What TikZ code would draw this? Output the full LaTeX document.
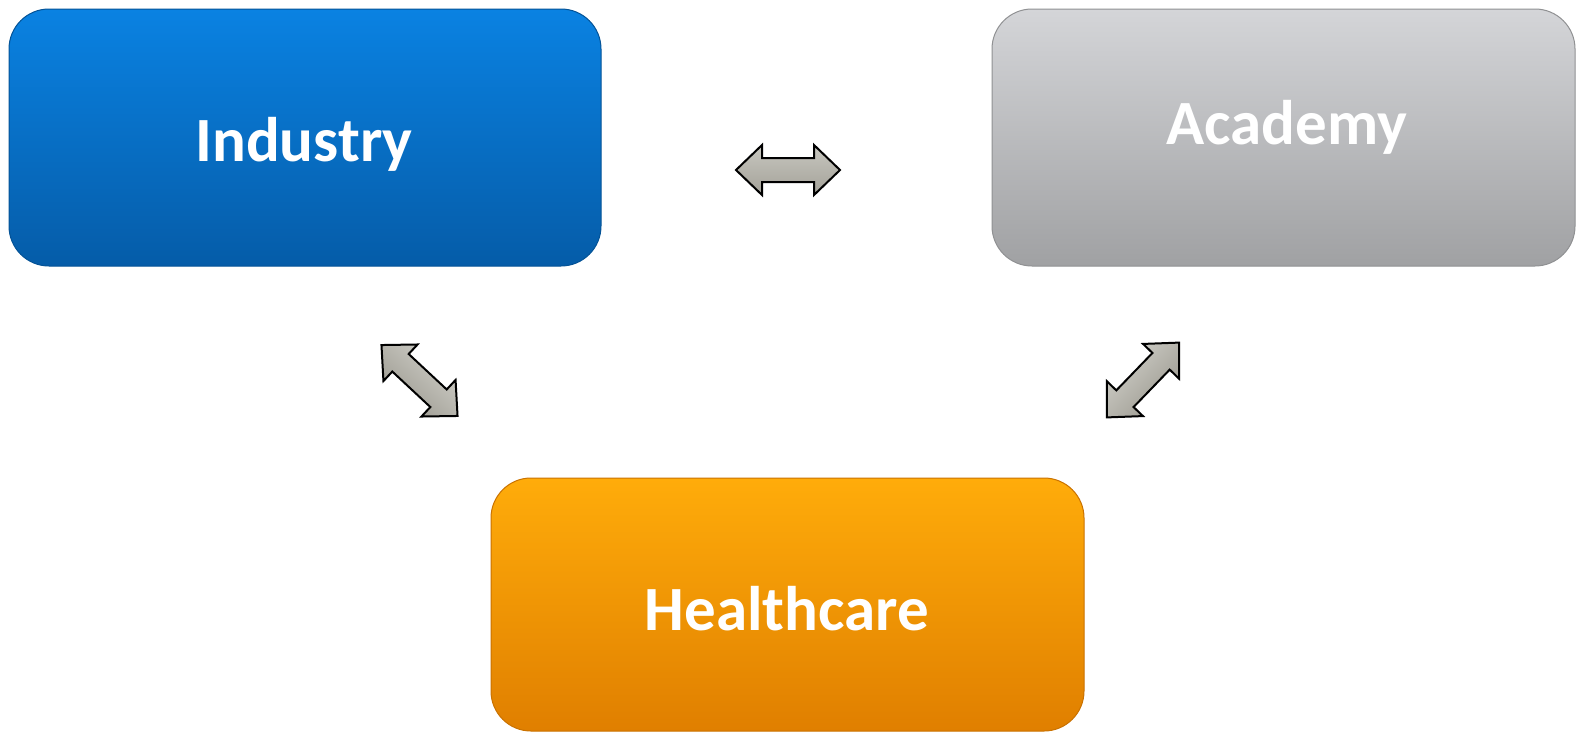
\documentclass[tikz,border=0pt]{standalone}
\usepackage{fontspec}
\setmainfont{Carlito}
\begin{document}
\begin{tikzpicture}[x=1pt,y=-1pt,
  box/.style={rectangle, rounded corners=40pt, inner sep=0pt, line width=1pt},
  boxtext/.style={anchor=base, text=white, inner sep=0pt, font=\fontsize{63}{68}\selectfont\bfseries},
  dblarrow/.style={draw=black, line width=2pt, line join=miter,
    top color=arrowtop, middle color=arrowmid, bottom color=arrowbot}
]
\definecolor{indtop}{HTML}{0A82E2}
\definecolor{indbot}{HTML}{055CA8}
\definecolor{acatop}{HTML}{D4D5D8}
\definecolor{acabot}{HTML}{A0A1A3}
\definecolor{heatop}{HTML}{FFAC0A}
\definecolor{heabot}{HTML}{E07F00}
\definecolor{arrowtop}{HTML}{C8C7C0}
\definecolor{arrowmid}{HTML}{EEEEEA}
\definecolor{arrowbot}{HTML}{A3A198}
\useasboundingbox (0,0) rectangle (1578,734);
\path[fill=white] (0,0) rectangle (1578,734);

\node (ind) [box, minimum width=592pt, minimum height=257pt,
  top color=indtop, bottom color=indbot, draw=indbot!90!black] at (305,137.5) {};
\node (aca) [box, minimum width=583pt, minimum height=257pt,
  top color=acatop, bottom color=acabot, draw=acabot!90!black] at (1283.5,137.5) {};
\node (hea) [box, minimum width=593pt, minimum height=253pt,
  top color=heatop, bottom color=heabot, draw=heabot!90!black] at (787.5,604.5) {};

\node (indt) [boxtext] at (304,161) {Industry};
\node (acat) [boxtext] at (1287,144) {Academy};
\node (heat) [boxtext] at (787,630) {Healthcare};

\begin{scope}[transform canvas={shift={(788,170)}}]
\path[dblarrow] (-52,0) -- (-26,-25) -- (-26,-12) -- (26,-12) -- (26,-25) -- (52,0)
  -- (26,25) -- (26,12) -- (-26,12) -- (-26,25) -- cycle;
\end{scope}
\begin{scope}[transform canvas={shift={(419.5,380.5)}, rotate=-43}]
\path[dblarrow] (-52,0) -- (-26,-25) -- (-26,-12) -- (26,-12) -- (26,-25) -- (52,0)
  -- (26,25) -- (26,12) -- (-26,12) -- (-26,25) -- cycle;
\end{scope}
\begin{scope}[transform canvas={shift={(1143,380)}, rotate=46}]
\path[dblarrow] (-52,0) -- (-26,-25) -- (-26,-12) -- (26,-12) -- (26,-25) -- (52,0)
  -- (26,25) -- (26,12) -- (-26,12) -- (-26,25) -- cycle;
\end{scope}
\end{tikzpicture}
\end{document}
